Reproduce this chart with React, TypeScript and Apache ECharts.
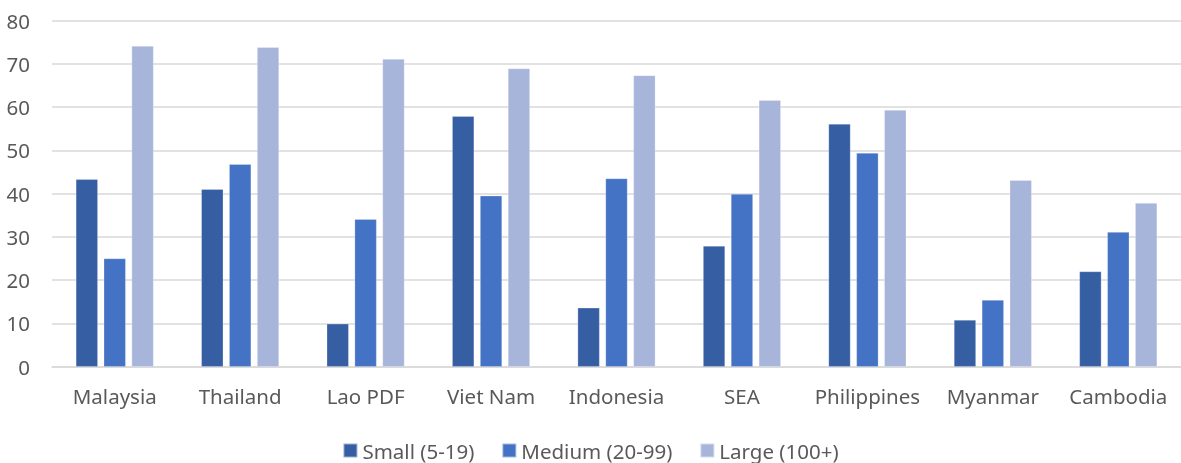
import React, { useEffect, useRef } from "react";
import * as echarts from "echarts";

const categories = ["Malaysia", "Thailand", "Lao PDF", "Viet Nam", "Indonesia", "SEA", "Philippines", "Myanmar", "Cambodia"];
const small = [43.3, 41.0, 9.9, 57.9, 13.6, 27.9, 56.1, 10.8, 22.0];
const medium = [25.0, 46.8, 34.1, 39.5, 43.5, 39.9, 49.4, 15.4, 31.1];
const large = [74.1, 73.8, 71.1, 68.9, 67.3, 61.6, 59.3, 43.1, 37.8];
const seriesNames = ["Small (5-19)", "Medium (20-99)", "Large (100+)"];
const colors = ["#365EA3", "#4472C4", "#A8B5DA"];

const FONT = "Noto Sans";
const FS = 20.5;

export default function App() {
  const ref = useRef<HTMLDivElement>(null);
  useEffect(() => {
    if (!ref.current) return;
    const chart = echarts.init(ref.current, undefined, { renderer: "svg" });
    const data = [small, medium, large];
    chart.setOption({
      animation: false,
      textStyle: { fontFamily: FONT },
      grid: { left: 52, right: 0, top: 20.5, bottom: 96.3, containLabel: false },
      legend: {
        top: 440,
        left: "center",
        padding: 0,
        itemWidth: 14,
        itemHeight: 14,
        itemGap: 27,
        icon: "rect",
        textStyle: { fontFamily: FONT, fontSize: FS, color: "#595959" },
        data: seriesNames,
      },
      xAxis: {
        type: "category",
        data: categories,
        axisLine: { show: true, lineStyle: { color: "#D9D9D9", width: 1.5 } },
        axisTick: { show: false },
        axisLabel: { fontFamily: FONT, fontSize: FS, color: "#595959", margin: 19, interval: 0 },
      },
      yAxis: {
        type: "value",
        min: 0,
        max: 80,
        interval: 10,
        axisLine: { show: false },
        axisTick: { show: false },
        splitLine: { lineStyle: { color: "#D9D9D9", width: 1.5 } },
        axisLabel: { fontFamily: FONT, fontSize: FS, color: "#595959", margin: 22 },
      },
      series: data.map((d, i) => ({
        name: seriesNames[i],
        type: "bar",
        data: d,
        barWidth: "17.5%",
        barGap: "27%",
        itemStyle: { color: colors[i], borderColor: "rgba(255,255,255,0.5)", borderWidth: 0.5 },
      })),
    });
    return () => chart.dispose();
  }, []);
  return <div ref={ref} style={{ position: "fixed", left: 0, top: 0, width: 1181, height: 463 }} />;
}
